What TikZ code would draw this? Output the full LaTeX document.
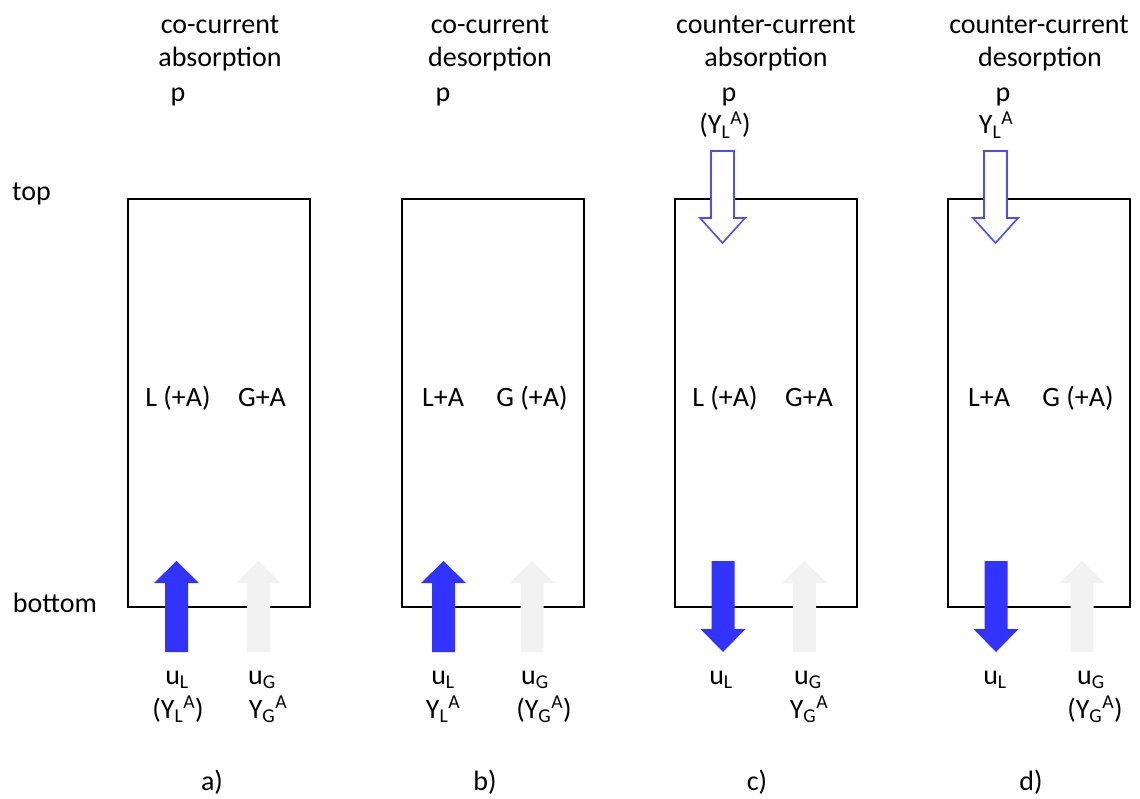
\documentclass[tikz,border=0pt]{standalone}
\usepackage{fontspec}
\setmainfont{Carlito}
\definecolor{flowblue}{HTML}{3333FF}
\definecolor{gasgrey}{HTML}{F2F2F2}
\definecolor{feedblue}{HTML}{4D4DFF}

% block arrow: #1 style, #2 centre x, #3 tail y, #4 head base y, #5 tip y
\newcommand\flowarrow[5]{%
  \path[#1] ({#2-11.5},{#3}) -- ({#2+11.5},{#3}) -- ({#2+11.5},{#4})
    -- ({#2+22.5},{#4}) -- ({#2},{#5}) -- ({#2-22.5},{#4})
    -- ({#2-11.5},{#4}) -- cycle;}

\tikzset{
  column/.style={draw=black, line width=2.3pt, minimum width=182pt,
    minimum height=408pt, inner sep=0pt, anchor=north west},
  lbl/.style={inner sep=0pt, anchor=base, font=\fontsize{28}{33}\selectfont},
  liquid/.style={fill=flowblue},
  gas/.style={fill=gasgrey},
  feed/.style={fill=white, draw=feedblue, line width=1.6pt, line join=miter},
}

\begin{document}
\begin{tikzpicture}[x=1pt, y=-1pt]
\useasboundingbox (0,0) rectangle (1140,799);

% side labels
\node[lbl] (top) at (31.5,201) {top};
\node[lbl] (bottom) at (55,612) {bottom};

% columns
\node[column] (boxa) at (127,198) {};
\node[column] (boxb) at (401,198) {};
\node[column] (boxc) at (674,198) {};
\node[column] (boxd) at (947,198) {};

% a) co-current absorption
\flowarrow{liquid}{176.5}{652}{583}{561}
\flowarrow{gas}{258.5}{652}{583}{561}
\node[lbl] (a1) at (220,34) {co-current};
\node[lbl] (a2) at (220,67) {absorption};
\node[lbl] (ap) at (178,102) {p};
\node[lbl] (aL) at (178,406) {L (+A)};
\node[lbl] (aG) at (262,406) {G+A};
\node[lbl] (auL) at (177,684) {u\textsubscript{L}};
\node[lbl] (aYL) at (178,718) {(Y\textsubscript{L}\textsuperscript{A})};
\node[lbl] (auG) at (262,684) {u\textsubscript{G}};
\node[lbl] (aYG) at (268,718) {Y\textsubscript{G}\textsuperscript{A}};
\node[lbl] (acap) at (212,790) {a)};

% b) co-current desorption
\flowarrow{liquid}{443.5}{652}{583}{561}
\flowarrow{gas}{532}{652}{583}{561}
\node[lbl] (b1) at (490,34) {co-current};
\node[lbl] (b2) at (490,67) {desorption};
\node[lbl] (bp) at (443,102) {p};
\node[lbl] (bL) at (443,406) {L+A};
\node[lbl] (bG) at (532,406) {G (+A)};
\node[lbl] (buL) at (443,684) {u\textsubscript{L}};
\node[lbl] (bYL) at (443,718) {Y\textsubscript{L}\textsuperscript{A}};
\node[lbl] (buG) at (535,684) {u\textsubscript{G}};
\node[lbl] (bYG) at (544,718) {(Y\textsubscript{G}\textsuperscript{A})};
\node[lbl] (bcap) at (485,790) {b)};

% c) counter-current absorption
\flowarrow{feed}{722.5}{151}{218}{243}
\flowarrow{liquid}{723}{561}{629}{652}
\flowarrow{gas}{804.5}{652}{583}{561}
\node[lbl] (c1) at (766,34) {counter-current};
\node[lbl] (c2) at (766,67) {absorption};
\node[lbl] (cp) at (729,102) {p};
\node[lbl] (cYtop) at (725,134) {(Y\textsubscript{L}\textsuperscript{A})};
\node[lbl] (cL) at (725,406) {L (+A)};
\node[lbl] (cG) at (809,406) {G+A};
\node[lbl] (cuL) at (721,684) {u\textsubscript{L}};
\node[lbl] (cuG) at (808,684) {u\textsubscript{G}};
\node[lbl] (cYG) at (809,718) {Y\textsubscript{G}\textsuperscript{A}};
\node[lbl] (ccap) at (757,790) {c)};

% d) counter-current desorption
\flowarrow{feed}{995.5}{151}{218}{243}
\flowarrow{liquid}{996}{561}{629}{652}
\flowarrow{gas}{1082}{652}{583}{561}
\node[lbl] (d1) at (1039,34) {counter-current};
\node[lbl] (d2) at (1040,67) {desorption};
\node[lbl] (dp) at (1003,102) {p};
\node[lbl] (dYtop) at (996,134) {Y\textsubscript{L}\textsuperscript{A}};
\node[lbl] (dL) at (989,406) {L+A};
\node[lbl] (dG) at (1078,406) {G (+A)};
\node[lbl] (duL) at (995,684) {u\textsubscript{L}};
\node[lbl] (duG) at (1091,684) {u\textsubscript{G}};
\node[lbl] (dYG) at (1095,718) {(Y\textsubscript{G}\textsuperscript{A})};
\node[lbl] (dcap) at (1031,790) {d)};
\end{tikzpicture}
\end{document}
